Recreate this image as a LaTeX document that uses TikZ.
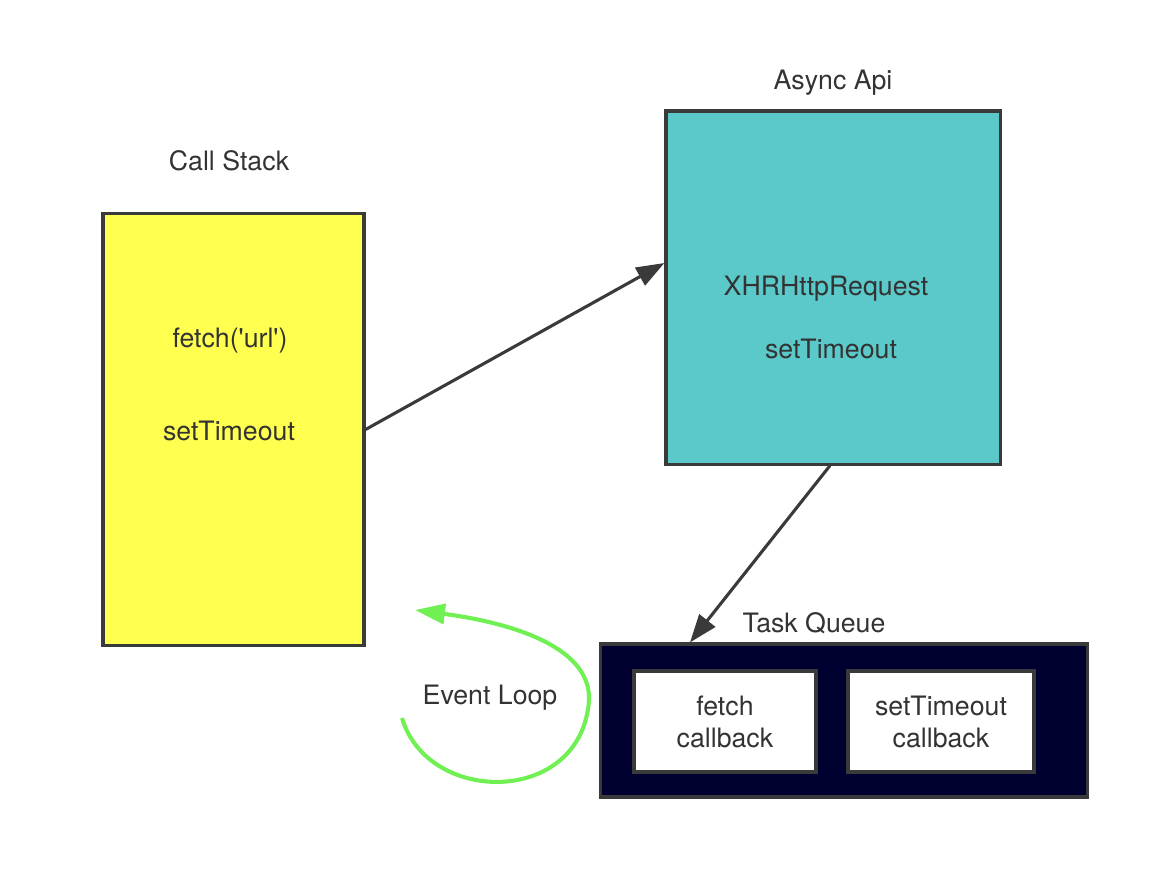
\documentclass[tikz,border=0pt]{standalone}
\usepackage{fontspec}
\setmainfont{TeX Gyre Heros}
\usetikzlibrary{arrows.meta,positioning}
\definecolor{stackyellow}{HTML}{FFFF4F}
\definecolor{apiteal}{HTML}{5BC9C9}
\definecolor{queuenavy}{HTML}{000030}
\definecolor{loopgreen}{HTML}{70F052}
\definecolor{linegray}{HTML}{3A3A3A}
\definecolor{textgray}{HTML}{333333}

\begin{document}
\begin{tikzpicture}[x=0.025cm,y=-0.025cm,
        >={Triangle[length=0.7cm,width=0.5cm]},
        font=\fontsize{19}{22.8}\selectfont,text=textgray,
        box/.style={draw=linegray,line width=2.2pt,inner sep=0pt},
        label/.style={inner sep=0pt,align=center},
        link/.style={->,draw=linegray,line width=2.2pt}]
		\useasboundingbox (0,0) rectangle (1176,894);
		\node [box,fill=stackyellow,minimum width=6.525cm,minimum height=10.775cm] (stack) at (233.5,429.5) {};
		\node [box,fill=apiteal,minimum width=8.35cm,minimum height=8.825cm] (api) at (833,287.5) {};
		\node [box,fill=queuenavy,minimum width=12.15cm,minimum height=3.825cm] (queue) at (844,720.5) {};
		\node [box,fill=white,minimum width=4.55cm,minimum height=2.525cm] (fcb) at (725,721.5) {};
		\node [box,fill=white,minimum width=4.65cm,minimum height=2.525cm] (tcb) at (941,721.5) {};
		% titles
		\node [label] (t1) at (229,161) {Call Stack};
		\node [label] (t2) at (833,83) {Async Api};
		\node [label] (t3) at (814,623) {Task Queue};
		\node [label] (t4) at (490,698) {Event Loop};
		% box texts
		\node [label] (s1) at (230,341) {fetch(\textquotesingle url\textquotesingle)};
		\node [label] (s2) at (229,431) {setTimeout};
		\node [label] (a1) at (826,289) {XHRHttpRequest};
		\node [label] (a2) at (831,349) {setTimeout};
		\node [label] (q1) at (fcb) {fetch\\callback};
		\node [label] (q2) at (tcb) {setTimeout\\callback};
		% arrows
		\coordinate (in1) at (api.west |- 0,263);
		\coordinate (in2) at (queue.north -| 690,0);
		\coordinate (out2) at (api.south -| 830,0);
		\draw [link] (stack.east) -- (in1);
		\draw [link] (out2) -- (in2);
		\coordinate (l1) at (402,718);
		\coordinate (l2) at (589,700);
		\coordinate (l3) at (415,610);
		\draw [->,draw=loopgreen,fill=none,line width=2.9pt,
		       >={Triangle[length=0.75cm,width=0.5cm,fill=loopgreen]}]
		      (l1) .. controls (428,806) and (582,806) .. (l2)
		           .. controls (591,650) and (520,624) .. (l3);
\end{tikzpicture}
\end{document}
